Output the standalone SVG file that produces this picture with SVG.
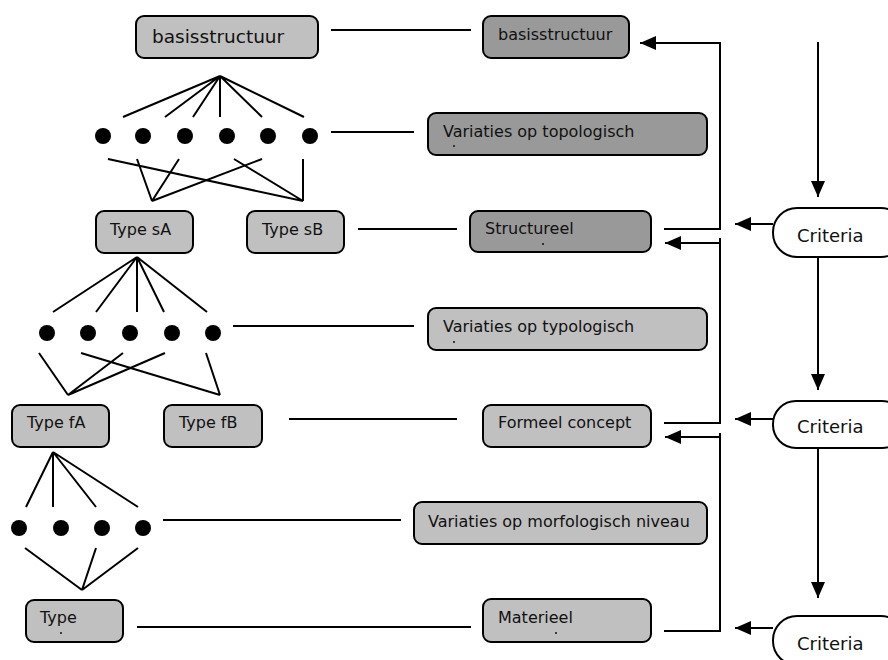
<svg xmlns="http://www.w3.org/2000/svg" width="888" height="660" viewBox="0 0 888 660">
  <style>
    .box { stroke: #000; stroke-width: 2; }
    .light { fill: #c0c0c0; }
    .dark { fill: #999999; }
    .pill { fill: #fff; stroke: #000; stroke-width: 2; }
    .t { font-family: "DejaVu Sans", Verdana, sans-serif; font-size: 16px; fill: #111; }
    .big { font-size: 18.5px; }
    .crit { font-size: 18px; }
    .ln { stroke: #000; stroke-width: 2; fill: none; }
    .dot { fill: #000; }
  </style>
  <defs>
    <marker id="head" viewBox="0 0 16 14" refX="16" refY="7" markerWidth="16" markerHeight="14" markerUnits="userSpaceOnUse" orient="auto">
      <path d="M0,0 L16,7 L0,14 Z" fill="#000"/>
    </marker>
  </defs>

  <!-- connectors -->
  <g id="connectors">
    <!-- tree 1: basisstructuur to topological variants -->
    <path class="ln" d="M220,76 L123,117 M220,76 L165,117 M220,76 L193,117 M220,76 L220,117 M220,76 L262,117 M220,76 L304,117"/>
    <path class="ln" d="M108,159 L303,201 M137,159 L152,201 M179,159 L152,201 M262,159 L152,201 M234,159 L303,201 M303,159 L303,201"/>
    <!-- tree 2: Type sA to typological variants -->
    <path class="ln" d="M137,257 L53,312 M137,257 L96,312 M137,257 L137,312 M137,257 L164,312 M137,257 L207,312"/>
    <path class="ln" d="M39,353 L68,395 M123,353 L68,395 M165,353 L68,395 M81,353 L220,395 M206,353 L220,395"/>
    <!-- tree 3: Type fA to morphological variants -->
    <path class="ln" d="M53,452 L26,507 M53,452 L53,507 M53,452 L96,507 M53,452 L138,507"/>
    <path class="ln" d="M25,548 L82,590 M96,548 L82,590 M138,548 L82,590"/>

    <!-- horizontal links between columns -->
    <line class="ln" x1="331" y1="30" x2="471" y2="30"/>
    <line class="ln" x1="331" y1="132" x2="414" y2="132"/>
    <line class="ln" x1="358" y1="229" x2="457" y2="229"/>
    <line class="ln" x1="233" y1="326" x2="414" y2="326"/>
    <line class="ln" x1="289" y1="419" x2="457" y2="419"/>
    <line class="ln" x1="163" y1="520" x2="401" y2="520"/>
    <line class="ln" x1="137" y1="627" x2="471" y2="627"/>

    <!-- feedback paths -->
    <path class="ln" d="M664,229 L720,229 L720,43 L640,43" marker-end="url(#head)"/>
    <path class="ln" d="M664,423 L720,423 L720,238"/>
    <path class="ln" d="M720,243 L665,243" marker-end="url(#head)"/>
    <path class="ln" d="M664,631 L720,631 L720,433"/>
    <path class="ln" d="M720,437 L665,437" marker-end="url(#head)"/>

    <!-- criteria flow -->
    <path class="ln" d="M818,42 L818,197" marker-end="url(#head)"/>
    <path class="ln" d="M818,257 L818,390" marker-end="url(#head)"/>
    <path class="ln" d="M818,448 L818,598" marker-end="url(#head)"/>
    <path class="ln" d="M773,224 L735,224" marker-end="url(#head)"/>
    <path class="ln" d="M773,419 L735,419" marker-end="url(#head)"/>
    <path class="ln" d="M773,628 L735,628" marker-end="url(#head)"/>
  </g>

  <!-- variant dots -->
  <g id="dots1">
    <circle class="dot" cx="103" cy="136" r="8"/>
    <circle class="dot" cx="143" cy="136" r="8"/>
    <circle class="dot" cx="185" cy="136" r="8"/>
    <circle class="dot" cx="227" cy="136" r="8"/>
    <circle class="dot" cx="268" cy="136" r="8"/>
    <circle class="dot" cx="310" cy="136" r="8"/>
  </g>
  <g id="dots2">
    <circle class="dot" cx="47" cy="333" r="8"/>
    <circle class="dot" cx="88" cy="333" r="8"/>
    <circle class="dot" cx="130" cy="333" r="8"/>
    <circle class="dot" cx="172" cy="333" r="8"/>
    <circle class="dot" cx="213" cy="333" r="8"/>
  </g>
  <g id="dots3">
    <circle class="dot" cx="19" cy="528" r="8"/>
    <circle class="dot" cx="61" cy="528" r="8"/>
    <circle class="dot" cx="102" cy="528" r="8"/>
    <circle class="dot" cx="143" cy="528" r="8"/>
  </g>

  <!-- left column -->
  <g id="basis-left">
    <rect class="box light" x="136" y="16" width="182" height="42" rx="8"/>
    <text class="t big" x="152" y="43">basisstructuur</text>
  </g>
  <g id="type-sA">
    <rect class="box light" x="96" y="211" width="97" height="42" rx="8"/>
    <text class="t" x="110" y="235">Type sA</text>
  </g>
  <g id="type-sB">
    <rect class="box light" x="247" y="211" width="97" height="42" rx="8"/>
    <text class="t" x="262" y="235">Type sB</text>
  </g>
  <g id="type-fA">
    <rect class="box light" x="12" y="405" width="97" height="42" rx="8"/>
    <text class="t" x="27" y="428">Type fA</text>
  </g>
  <g id="type-fB">
    <rect class="box light" x="164" y="405" width="98" height="42" rx="8"/>
    <text class="t" x="179" y="428">Type fB</text>
  </g>
  <g id="type">
    <rect class="box light" x="26" y="600" width="97" height="42" rx="8"/>
    <text class="t" x="40" y="623">Type</text>
    <circle cx="61" cy="633" r="1" fill="#111"/>
  </g>

  <!-- middle column -->
  <g id="basis-right">
    <rect class="box dark" x="483" y="16" width="146" height="42" rx="8"/>
    <text class="t" x="498" y="40">basisstructuur</text>
  </g>
  <g id="var-topo">
    <rect class="box dark" x="428" y="113" width="279" height="42" rx="8"/>
    <text class="t" x="443" y="137">Variaties op topologisch</text>
    <circle cx="454" cy="146" r="1" fill="#111"/>
  </g>
  <g id="structureel">
    <rect class="box dark" x="470" y="211" width="181" height="41" rx="8"/>
    <text class="t" x="485" y="234">Structureel</text>
    <circle cx="543" cy="244" r="1" fill="#111"/>
  </g>
  <g id="var-typo">
    <rect class="box light" x="428" y="308" width="279" height="42" rx="8"/>
    <text class="t" x="443" y="332">Variaties op typologisch</text>
    <circle cx="454" cy="342" r="1" fill="#111"/>
  </g>
  <g id="formeel">
    <rect class="box light" x="483" y="405" width="168" height="42" rx="8"/>
    <text class="t" x="498" y="428">Formeel concept</text>
  </g>
  <g id="var-morf">
    <rect class="box light" x="414" y="502" width="293" height="42" rx="8"/>
    <text class="t" x="428" y="527">Variaties op morfologisch niveau</text>
  </g>
  <g id="materieel">
    <rect class="box light" x="483" y="599" width="168" height="43" rx="8"/>
    <text class="t" x="498" y="623">Materieel</text>
    <circle cx="556" cy="633" r="1" fill="#111"/>
  </g>

  <!-- criteria -->
  <g id="criteria-1">
    <rect class="pill" x="773" y="208" width="132" height="49" rx="24"/>
    <text class="t crit" x="797" y="242">Criteria</text>
  </g>
  <g id="criteria-2">
    <rect class="pill" x="773" y="401" width="132" height="47" rx="23"/>
    <text class="t crit" x="797" y="433">Criteria</text>
  </g>
  <g id="criteria-3">
    <rect class="pill" x="773" y="616" width="132" height="49" rx="24"/>
    <text class="t crit" x="797" y="650">Criteria</text>
  </g>
</svg>
